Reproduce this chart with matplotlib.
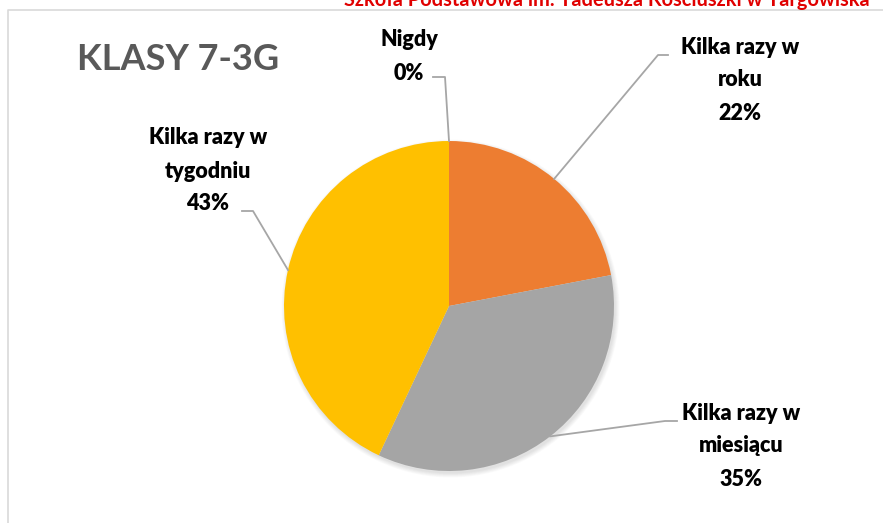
import numpy as np
import matplotlib.pyplot as plt
import matplotlib.patches as mpatches

categories = ["Nigdy", "Kilka razy w\nroku", "Kilka razy w\nmiesiącu", "Kilka razy w\ntygodniu"]
values = [0, 22, 35, 43]
colors = ["#4472C4", "#ED7D31", "#A5A5A5", "#FFC000"]

W, H = 883, 523
fig = plt.figure(figsize=(W / 100, H / 100), dpi=100)
ax = fig.add_axes([0, 0, 1, 1])

def py(y):
    # screen pixel row -> axes y
    return H - y

cx, cy, r = 449, py(306), 165

# soft shadow
for i in range(6):
    ax.add_patch(mpatches.Circle((cx + 1.5, cy - 2.5), r + 4 - i * 0.8, color="black",
                                 alpha=0.018, lw=0, zorder=1))

wedges, _ = ax.pie(values, colors=colors, startangle=90, counterclock=False,
                   center=(cx, cy), radius=r, wedgeprops=dict(linewidth=0), frame=True)
for w in wedges:
    w.set_zorder(2)
ax.set_xlim(0, W)
ax.set_ylim(0, H)
ax.set_aspect("equal")
ax.axis("off")

# frame of the chart area
ax.plot([7.5, 7.5, W], [0, py(9.5), py(9.5)], color="#d9d9d9", lw=1.2, solid_capstyle="butt")

# red school name, cut at the top like in the source
ax.text(607, py(6), "Szkoła Podstawowa im. Tadeusza Kościuszki w Targowiska",
        color="#e00000", fontsize=14.4, fontweight="bold", family="Lato",
        ha="center", va="baseline")

ax.text(178, py(60), "KLASY 7-3G", color="#595959", fontsize=26, fontweight="bold",
        family="Lato", ha="center", va="center")

# label boxes (center x, first line y) and leader line elbows (screen pixels)
label_pos = [(409, 40), (740, 47), (741, 413), (208, 138)]
elbows = [[(445, 77), (433, 77)],
          [(658, 55), (668, 55)],
          [(665, 421), (677, 421)],
          [(253, 211), (242, 211)]]

total = sum(values)
start = 90.0
for cat, v, (lx, ly), elb in zip(categories, values, label_pos, elbows):
    ang = start - v / total * 360 / 2
    start -= v / total * 360
    ex = cx + r * np.cos(np.radians(ang))
    ey = cy + r * np.sin(np.radians(ang))
    xs = [ex] + [p[0] for p in elb]
    ys = [ey] + [py(p[1]) for p in elb]
    ax.plot(xs, ys, color="#a6a6a6", lw=1.3, zorder=3)
    lines = cat.split("\n") + [f"{v}%"]
    for k, t in enumerate(lines):
        ax.text(lx, py(ly + k * 33), t, fontsize=15.5, fontweight="heavy", family="Lato",
                color="black", ha="center", va="center")

fig.savefig("out.png", dpi=100)
